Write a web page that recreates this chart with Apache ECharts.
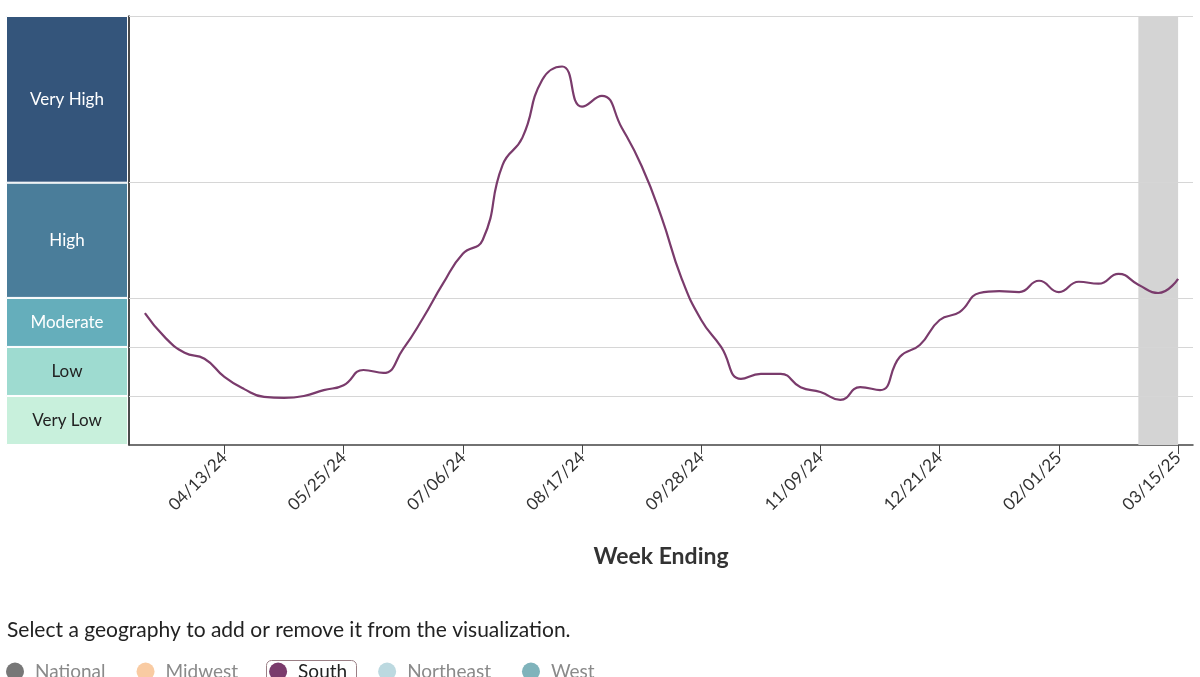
<!DOCTYPE html>
<html>
<head>
<meta charset="utf-8">
<script src="https://cdn.jsdelivr.net/npm/echarts@6/dist/echarts.min.js"></script>
<style>
  html, body { margin: 0; padding: 0; background: #fff; }
  #chart { width: 1200px; height: 677px; }
</style>
</head>
<body>
<div id="chart"></div>
<script>
/* week ending dates */
var weeks = ['03/16/24', '03/23/24', '03/30/24', '04/06/24', '04/13/24', '04/20/24', '04/27/24', '05/04/24', '05/11/24', '05/18/24',
  '05/25/24', '06/01/24', '06/08/24', '06/15/24', '06/22/24', '06/29/24', '07/06/24', '07/13/24', '07/20/24', '07/27/24',
  '08/03/24', '08/10/24', '08/17/24', '08/24/24', '08/31/24', '09/07/24', '09/14/24', '09/21/24', '09/28/24', '10/05/24',
  '10/12/24', '10/19/24', '10/26/24', '11/02/24', '11/09/24', '11/16/24', '11/23/24', '11/30/24', '12/07/24', '12/14/24',
  '12/21/24', '12/28/24', '01/04/25', '01/11/25', '01/18/25', '01/25/25', '02/01/25', '02/08/25', '02/15/25', '02/22/25',
  '03/01/25', '03/08/25', '03/15/25'];

// South level (chart units, 1 unit per band step)
var south = [2.69, 2.20, 1.88, 1.76, 1.39, 1.14, 0.98, 0.96, 1.00, 1.12,
  1.22, 1.53, 1.47, 1.96, 2.59, 3.29, 3.90, 4.18, 5.71, 6.27,
  7.45, 7.72, 6.90, 7.12, 6.47, 5.69, 4.65, 3.41, 2.55, 2.00,
  1.35, 1.45, 1.45, 1.18, 1.08, 0.92, 1.18, 1.12, 1.80, 2.04,
  2.55, 2.71, 3.10, 3.14, 3.12, 3.35, 3.12, 3.33, 3.29, 3.49,
  3.27, 3.10, 3.39];

// tick labels (week index)
var tickWeeks = [4, 10, 16, 22, 28, 34, 40, 46, 52];

// level bands
var levelNames = ['Very Low', 'Low', 'Moderate', 'High', 'Very High'];
var levelTops = [1, 2, 3, 5.35, 8.75];
var levelColors = ['#c8f0dc', '#9edbd0', '#65aebb', '#4a7d9a', '#34557b'];
var levelText = ['#222', '#222', '#fff', '#fff', '#fff'];

// incomplete data window (week index)
var incomplete = [50, 52];

var geos = ['National', 'Midwest', 'South', 'Northeast', 'West'];
var geoColors = ['#777777', '#f9cba2', '#7a3b6c', '#bcd9e0', '#7fb3bb'];

var FONT = 'Lato, "Open Sans", sans-serif';

(function () {
  var myChart = echarts.init(document.getElementById('chart'));

  var lineData = [];
  for (var i in south) {
    lineData.push([+i, south[i]]);
  }

  /* 分级色块 */
  var bandSeries = [];
  for (var k = 0; k < levelNames.length; k++) {
    bandSeries.push({
      name: levelNames[k],
      type: 'bar',
      stack: 'level',
      xAxisIndex: 1,
      yAxisIndex: 1,
      barWidth: '100%',
      silent: true,
      data: [levelTops[k] - (k > 0 ? levelTops[k - 1] : 0)],
      itemStyle: { color: levelColors[k], borderColor: '#fff', borderWidth: 1 },
      label: {
        show: true,
        position: 'inside',
        formatter: levelNames[k],
        color: levelText[k],
        fontSize: 17,
        fontFamily: FONT
      }
    });
  }

  var geoSeries = [];
  for (var g = 0; g < geos.length; g++) {
    geoSeries.push({
      name: geos[g],
      type: 'line',
      smooth: 0.5,
      showSymbol: false,
      color: geoColors[g],
      data: geos[g] === 'South' ? lineData : [],
      lineStyle: { width: 2.2, color: geoColors[g] },
      z: 5
    });
  }

  var option = {
    animation: false,
    textStyle: { fontFamily: FONT },
    title: {
      text: 'Select a geography to add or remove it from the visualization.',
      left: 2,
      top: 615,
      textStyle: { fontSize: 21, fontWeight: 'normal', color: '#222', fontFamily: FONT }
    },
    legend: {
      data: geos.map(function (n) {
        return {
          name: n,
          textStyle: { color: n === 'South' ? '#222' : '#8a8a8a' }
        };
      }),
      left: 6,
      top: 662,
      padding: 0,
      icon: 'circle',
      itemWidth: 18,
      itemHeight: 18,
      itemGap: 31,
      selectedMode: false,
      textStyle: { fontSize: 19, fontFamily: FONT, padding: [0, 0, 0, 6] }
    },
    graphic: [{
      type: 'rect',
      left: 264,
      top: 658,
      shape: { width: 90, height: 30, r: 5 },
      style: { fill: 'none', stroke: '#9a7f85', lineWidth: 1 },
      z: 0
    }],
    grid: [
      { left: 129, right: 7, top: 16, bottom: 232 },
      { left: 6, width: 122, top: 16, bottom: 232 }
    ],
    xAxis: [
      {
        type: 'value',
        gridIndex: 0,
        min: -0.8,
        max: 52.75,
        splitLine: { show: false },
        axisLine: { lineStyle: { color: '#444', width: 1.5 } },
        axisTick: { show: true, length: 9, customValues: tickWeeks, lineStyle: { color: '#444' } },
        axisLabel: {
          customValues: tickWeeks,
          rotate: 45,
          fontSize: 17,
          color: '#333',
          margin: 10,
          formatter: function (v) { return weeks[Math.round(v)]; }
        },
        name: 'Week Ending',
        nameLocation: 'middle',
        nameGap: 100,
        nameTextStyle: { fontSize: 23, fontWeight: 'bold', color: '#333' }
      },
      {
        type: 'category',
        gridIndex: 1,
        data: ['level'],
        show: false
      }
    ],
    yAxis: [
      {
        type: 'value',
        gridIndex: 0,
        min: 0,
        max: 8.75,
        axisLine: { show: true, onZero: false, lineStyle: { color: '#111', width: 1.5 } },
        axisTick: { show: false },
        axisLabel: { show: false },
        splitLine: { show: false }
      },
      {
        type: 'value',
        gridIndex: 1,
        min: 0,
        max: 8.75,
        show: false
      }
    ],
    series: [
      {
        name: 'levels',
        type: 'line',
        data: [],
        silent: true,
        z: 1,
        markLine: {
          silent: true,
          symbol: 'none',
          label: { show: false },
          lineStyle: { color: '#d6d6d6', width: 1, type: 'solid' },
          data: levelTops.map(function (v) { return { yAxis: v }; })
        }
      },
      {
        name: 'incomplete',
        type: 'line',
        data: [],
        silent: true,
        z: 2,
        markArea: {
          silent: true,
          itemStyle: { color: '#d4d4d4' },
          data: [[{ xAxis: incomplete[0] }, { xAxis: incomplete[1] }]]
        }
      }
    ].concat(geoSeries).concat(bandSeries)
  };

  myChart.setOption(option);
})();
</script>
</body>
</html>
